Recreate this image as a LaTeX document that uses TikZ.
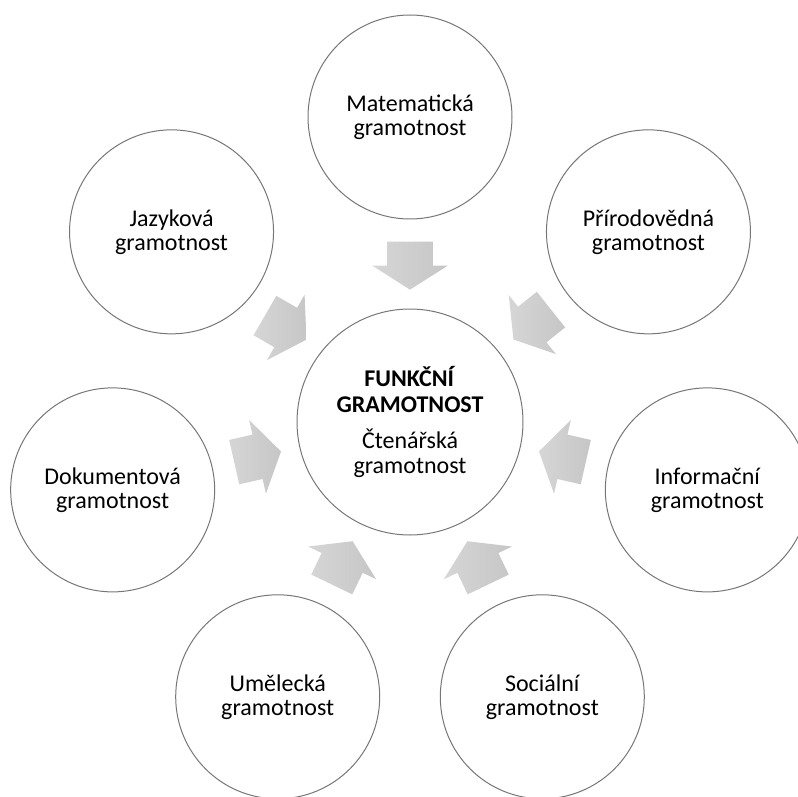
\documentclass[tikz,border=0pt]{standalone}
\usepackage{fontspec}
\setmainfont{Carlito}
\usetikzlibrary{shapes.arrows,calc}

\definecolor{rimgray}{RGB}{118,118,118}
\definecolor{feedlight}{RGB}{214,214,214}
\definecolor{feeddark}{RGB}{198,198,198}

\begin{document}
\begin{tikzpicture}[x=0.75pt,y=0.75pt,
  every node/.style={font=\fontsize{18}{18}\selectfont,align=center},
  literacy/.style={circle,draw=rimgray,line width=0.75pt,minimum size=153pt,inner sep=0pt},
  hubcircle/.style={literacy,minimum size=169.5pt},
  feeder/.style={single arrow,draw=none,inner xsep=0pt,inner ysep=16.875pt,minimum height=36pt,
    single arrow head extend=11.25pt,single arrow tip angle=115,
    left color=feedlight,right color=feeddark,anchor=tip}]
  \useasboundingbox (-410,-374) rectangle (388,422);
  \clip (-410,-374) rectangle (388,422);

  % centre
  \node (hub) [hubcircle] at (0,0)
    {\textbf{FUNKČNÍ}\\[1.5pt]\textbf{GRAMOTNOST}\\[9pt]Čtenářská\\[0.75pt]gramotnost};

  % the seven literacies
  \node (mat) [literacy] at (90:305) {Matematická\\gramotnost};
  \node (jaz) [literacy] at (141.43:305) {Jazyková\\gramotnost};
  \node (dok) [literacy] at (192.86:305) {Dokumentová\\gramotnost};
  \node (ume) [literacy] at (244.29:305) {Umělecká\\gramotnost};
  \node (soc) [literacy] at (295.71:305) {Sociální\\gramotnost};
  \node (inf) [literacy] at (347.14:305) {Informační\\gramotnost};
  \node (pri) [literacy] at (38.57:305) {Přírodovědná\\gramotnost};

  % block arrows into the centre
  \node (mat-in) [feeder,rotate=270] at ($(hub)!0.4328!(mat)$) {};
  \node (jaz-in) [feeder,rotate=330] at ($(hub)!0.4328!(jaz)$) {};
  \node (dok-in) [feeder,rotate=12.86] at ($(hub)!0.4328!(dok)$) {};
  \node (ume-in) [feeder,rotate=64.29] at ($(hub)!0.4328!(ume)$) {};
  \node (soc-in) [feeder,rotate=115.71] at ($(hub)!0.4328!(soc)$) {};
  \node (inf-in) [feeder,rotate=167.14] at ($(hub)!0.4328!(inf)$) {};
  \node (pri-in) [feeder,rotate=218.57] at ($(hub)!0.4328!(pri)$) {};
\end{tikzpicture}
\end{document}
